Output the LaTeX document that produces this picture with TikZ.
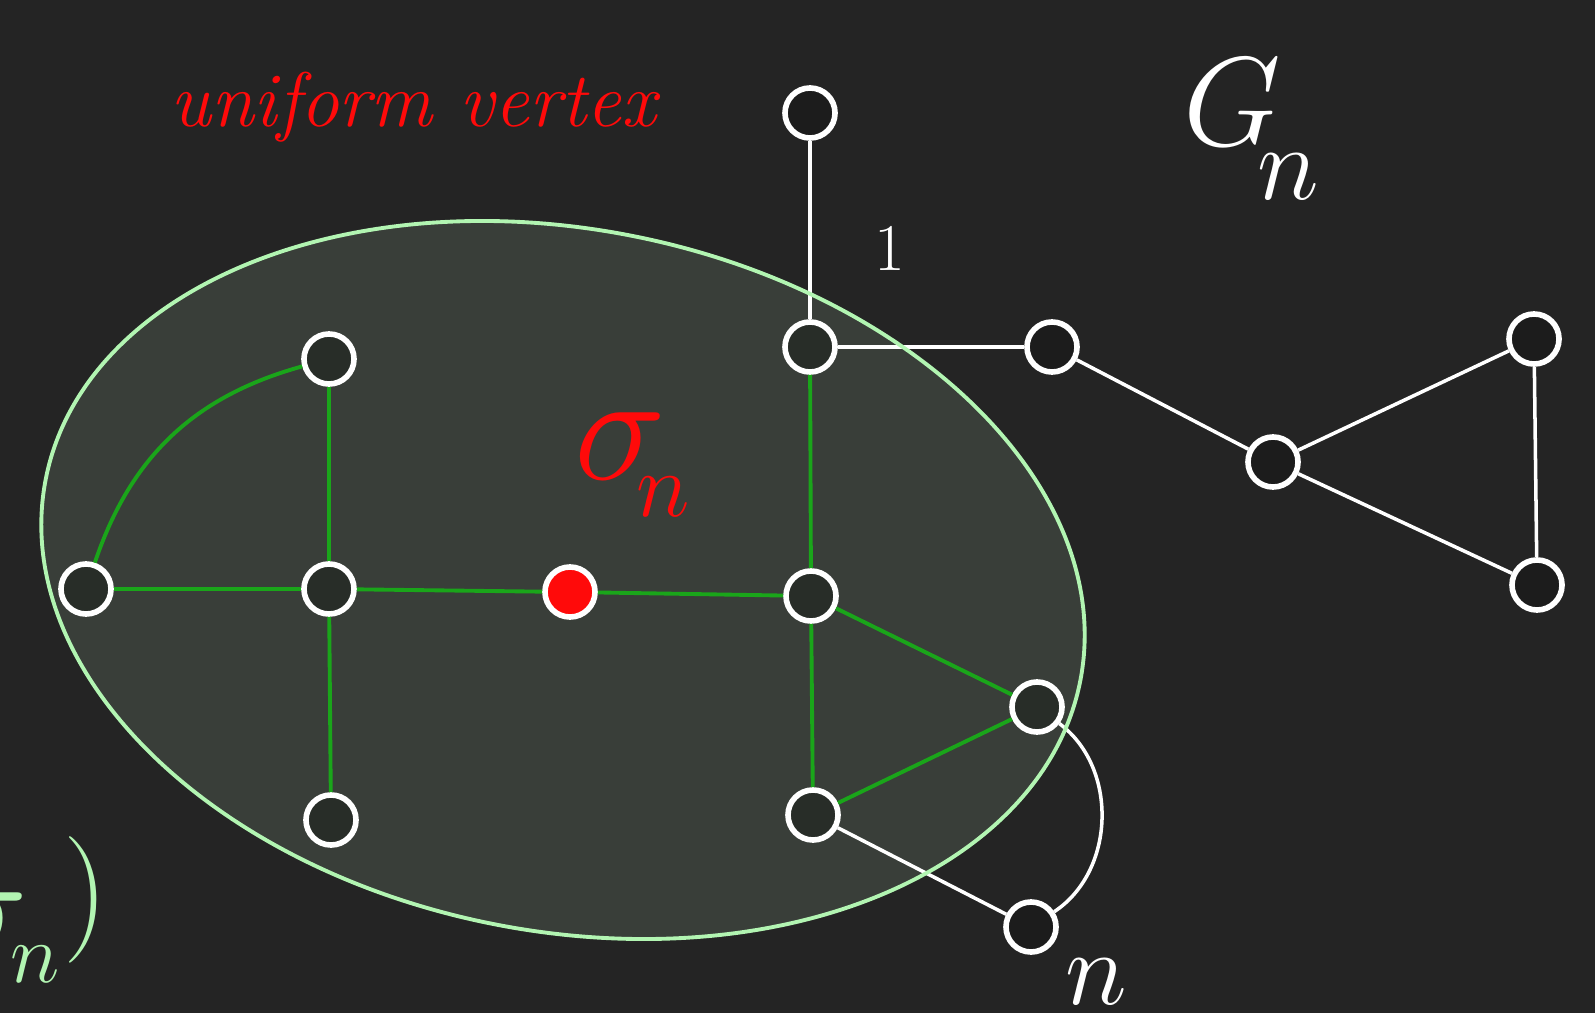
\RequirePackage{fix-cm}
\documentclass[tikz,border=0pt]{standalone}
\usepackage{tikz}
\definecolor{board}{HTML}{242424}
\definecolor{blob}{HTML}{393E39}
\definecolor{rim}{HTML}{B2F5B2}
\definecolor{edgegreen}{HTML}{1AA51A}
\definecolor{chalkred}{HTML}{FF0A0A}
\definecolor{inner}{HTML}{282D28}
\definecolor{outer}{HTML}{1C1C1C}
\tikzset{
  vert/.style={circle, draw=white, line width=1.6pt, fill=outer, minimum size=0.5cm, inner sep=0pt},
  invert/.style={vert, fill=inner},
  redvert/.style={vert, fill=chalkred},
  whiteedge/.style={draw=white, line width=1pt},
  greenedge/.style={draw=edgegreen, line width=1.1pt},
  chalk/.style={font=\fontsize{22}{26}\selectfont\itshape},
  lab/.style={inner sep=0pt}
}
\begin{document}
\begin{tikzpicture}[x=0.01cm, y=-0.01cm]
\useasboundingbox[fill=board] (0,0) rectangle (1595,1013);

% the subgraph sigma_n
\fill[blob, rotate around={-11:(563,580)}] (563,580) ellipse [x radius=527, y radius=351];

% vertices
\node[vert] (top) at (810,113) {};
\node[invert] (one) at (810,347) {};
\node[vert] (hub) at (1052,347) {};
\node[vert] (mid) at (1273,462) {};
\node[vert] (tr) at (1534,339) {};
\node[vert] (br) at (1537,585) {};
\node[invert] (left) at (86,589) {};
\node[invert] (ctr) at (329,589) {};
\node[invert] (up) at (329,359) {};
\node[invert] (down) at (331,820) {};
\node[redvert] (unif) at (570,592) {};
\node[invert] (rc) at (811,596) {};
\node[invert] (tri) at (1037,707) {};
\node[invert] (low) at (813,815) {};
\node[vert] (last) at (1031,927) {};

% white edges
\draw[whiteedge] (top) -- (one);
\draw[whiteedge] (one) -- (hub);
\draw[whiteedge] (hub) -- (mid);
\draw[whiteedge] (mid) -- (tr);
\draw[whiteedge] (mid) -- (br);
\draw[whiteedge] (tr) -- (br);
\draw[whiteedge] (low) -- (last);
\draw[whiteedge] (tri) to[bend left=55] (last);

% green edges
\draw[greenedge] (one) -- (rc);
\draw[greenedge] (up) -- (ctr);
\draw[greenedge] (ctr) -- (left);
\draw[greenedge] (ctr) -- (down);
\draw[greenedge] (ctr) -- (unif);
\draw[greenedge] (unif) -- (rc);
\draw[greenedge] (rc) -- (tri);
\draw[greenedge] (rc) -- (low);
\draw[greenedge] (low) -- (tri);
\draw[greenedge] (left) to[bend left=28] (up);

% outline on top
\draw[rim, line width=1.1pt, rotate around={-11:(563,580)}] (563,580) ellipse [x radius=527, y radius=351];

% labels
\node[lab, chalk, text=chalkred, anchor=base west] (lbl) at (170,127) {uniform vertex};
\node[lab, text=chalkred, font=\fontsize{44}{48}\selectfont] (sig) at (620,446) {$\sigma$};
\node[lab, text=chalkred, font=\fontsize{26}{30}\selectfont] (sigsub) at (663,497) {$n$};
\node[lab, text=white, font=\fontsize{36}{40}\selectfont] (gn) at (1232,102) {$G$};
\node[lab, text=white, font=\fontsize{30}{34}\selectfont] (gnsub) at (1288,177) {$n$};
\node[lab, text=white, font=\fontsize{19}{23}\selectfont] (lab1) at (890,249) {$1$};
\node[lab, text=white, font=\fontsize{30}{34}\selectfont, anchor=base] (labn) at (1096,1004) {$n$};
\node[lab, text=rim, font=\fontsize{44}{48}\selectfont] (sigb) at (-18,926) {$\sigma$};
\node[lab, text=rim, font=\fontsize{24}{28}\selectfont] (sigbsub) at (35,964) {$n$};
\node[lab, text=rim, font=\fontsize{36}{40}\selectfont] (paren) at (86,900) {$)$};
\end{tikzpicture}
\end{document}
